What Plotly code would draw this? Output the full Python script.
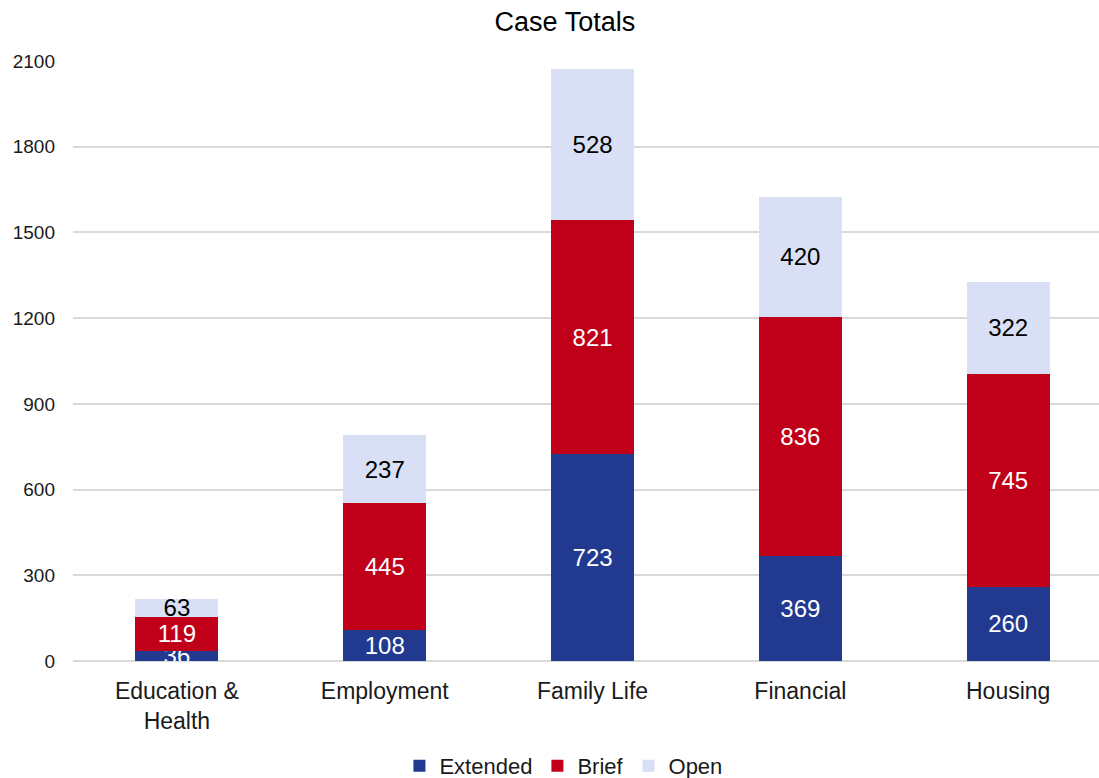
import plotly.graph_objects as go

categories = ["Education &<br>Health", "Employment", "Family Life", "Financial", "Housing"]
extended = [36, 108, 723, 369, 260]
brief = [119, 445, 821, 836, 745]
open_ = [63, 237, 528, 420, 322]
y_ticks = [0, 300, 600, 900, 1200, 1500, 1800, 2100]

FONT = "Liberation Sans"

fig = go.Figure()
series = [
    ("Extended", extended, "#213A8F", "white"),
    ("Brief", brief, "#C00018", "white"),
    ("Open", open_, "#D9DFF4", "black"),
]
for name, vals, color, tcolor in series:
    fig.add_trace(go.Bar(
        name=name, x=categories, y=vals,
        marker=dict(color=color, line=dict(width=0)),
        width=0.4,
        text=[str(v) for v in vals],
        textposition="inside", insidetextanchor="middle",
        textangle=0, constraintext="none", cliponaxis=True,
        textfont=dict(color=tcolor, size=24, family=FONT),
    ))

fig.update_layout(
    barmode="stack",
    width=1099, height=778,
    margin=dict(l=73, r=0, t=61, b=117, autoexpand=False),
    paper_bgcolor="white", plot_bgcolor="white",
    title=dict(text="Case Totals", x=0.514, xanchor="center", xref="container",
               y=0.972, yanchor="middle", yref="container",
               font=dict(size=27, color="black", family=FONT)),
    font=dict(family=FONT, color="black"),
    xaxis=dict(range=[-0.5, 4.437], tickfont=dict(size=23, color="#1a1a1a"),
               showgrid=False, ticks="", showline=False, automargin=False,
               ticklabelstandoff=14),
    yaxis=dict(range=[0, 2100], tickvals=y_ticks, ticktext=[str(t) for t in y_ticks],
               tickfont=dict(size=19, color="#1a1a1a"), automargin=False,
               gridcolor="#D9D9D9", gridwidth=1.5, zeroline=True, zerolinecolor="#D9D9D9",
               zerolinewidth=1.5, ticks="", ticklabelstandoff=17),
    legend=dict(orientation="h", x=0.478, xanchor="center", y=-0.175, yanchor="middle",
                font=dict(size=22, color="#1a1a1a"), traceorder="normal",
                itemwidth=30, tracegroupgap=0),
    showlegend=True,
)

fig.write_html("out.html", config={"responsive": False, "displayModeBar": False},
               post_script="document.body.style.margin='0px';")
